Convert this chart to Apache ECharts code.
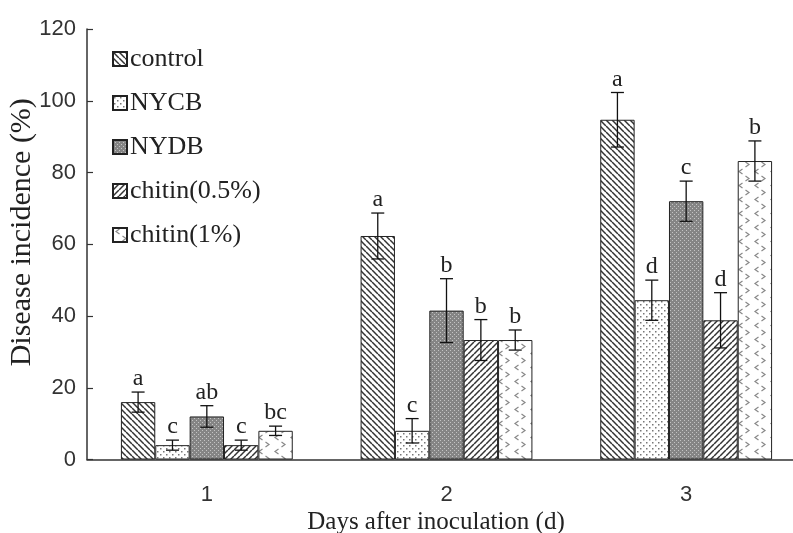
<!DOCTYPE html>
<html>
<head>
<meta charset="utf-8">
<script src="https://cdn.jsdelivr.net/npm/echarts@6/dist/echarts.min.js"></script>
<style>html,body{margin:0;padding:0;background:#fff;}#chart{width:793px;height:533px;}</style>
</head>
<body>
<div id="chart"></div>
<script>
// ---- data ----
const categories = ['1', '2', '3'];
const seriesNames = ['control', 'NYCB', 'NYDB', 'chitin(0.5%)', 'chitin(1%)'];
const controlMean = [16.0, 62.3, 94.7];
const controlErr = [2.8, 6.4, 7.6];
const nycbMean = [4.0, 8.0, 44.4];
const nycbErr = [1.4, 3.4, 5.6];
const nydbMean = [12.0, 41.5, 72.0];
const nydbErr = [3.0, 8.9, 5.6];
const chitin05Mean = [4.0, 33.3, 38.8];
const chitin05Err = [1.4, 5.7, 7.7];
const chitin1Mean = [8.0, 33.3, 83.2];
const chitin1Err = [1.3, 2.8, 5.6];
const controlLetters = ['a', 'a', 'a'];
const nycbLetters = ['c', 'c', 'd'];
const nydbLetters = ['ab', 'b', 'c'];
const chitin05Letters = ['c', 'b', 'd'];
const chitin1Letters = ['bc', 'b', 'b'];
const yTicks = [0, 20, 40, 60, 80, 100, 120];

const means = [controlMean, nycbMean, nydbMean, chitin05Mean, chitin1Mean];
const errs = [controlErr, nycbErr, nydbErr, chitin05Err, chitin1Err];
const letters = [controlLetters, nycbLetters, nydbLetters, chitin05Letters, chitin1Letters];

// ---- patterns ----
function tile(w, h, draw) {
  const c = document.createElement('canvas');
  c.width = w; c.height = h;
  const ctx = c.getContext('2d');
  ctx.fillStyle = '#fff'; ctx.fillRect(0, 0, w, h);
  draw(ctx, w, h);
  return { image: c, repeat: 'repeat' };
}
const patBack = tile(6, 6, (ctx, s) => {
  ctx.strokeStyle = '#333'; ctx.lineWidth = 1.5;
  for (let k = -1; k <= 1; k++) { ctx.beginPath(); ctx.moveTo(k * s, 0); ctx.lineTo(k * s + s, s); ctx.stroke(); }
});
const patFwd = tile(6, 6, (ctx, s) => {
  ctx.strokeStyle = '#333'; ctx.lineWidth = 1.5;
  for (let k = -1; k <= 1; k++) { ctx.beginPath(); ctx.moveTo(k * s, s); ctx.lineTo(k * s + s, 0); ctx.stroke(); }
});
const patDots = tile(6, 6, (ctx) => {
  ctx.fillStyle = '#777';
  ctx.fillRect(1, 1, 1.5, 1.5); ctx.fillRect(4, 4, 1.5, 1.5);
});
const patDense = tile(4, 4, (ctx) => {
  ctx.fillStyle = '#858585'; ctx.fillRect(0, 0, 4, 4);
  ctx.fillStyle = '#c4c4c4'; ctx.fillRect(0, 0, 1, 1); ctx.fillRect(2, 2, 1, 1);
});
const patChev = tile(16, 14, (ctx) => {
  ctx.strokeStyle = '#888'; ctx.lineWidth = 1.2;
  ctx.beginPath(); ctx.moveTo(6.5, 1); ctx.lineTo(3, 3.5); ctx.lineTo(6.5, 6); ctx.stroke();
  ctx.beginPath(); ctx.moveTo(9.5, 8); ctx.lineTo(13, 10.5); ctx.lineTo(9.5, 13); ctx.stroke();
});
const patterns = [patBack, patDots, patDense, patFwd, patChev];

const GAP = 0.283;
const serif = 'Liberation Serif';
const sans = 'Liberation Sans';

const barSeries = seriesNames.map((name, i) => ({
  name: name,
  type: 'bar',
  barGap: '0%',
  barCategoryGap: (GAP * 100) + '%',
  data: means[i],
  itemStyle: { color: patterns[i], borderColor: '#222', borderWidth: 1 },
  emphasis: { disabled: true },
  z: 2
}));

const errData = [];
for (let s = 0; s < seriesNames.length; s++) {
  for (let c = 0; c < categories.length; c++) {
    errData.push([c, s, means[s][c], errs[s][c]]);
  }
}

const errSeries = {
  type: 'custom',
  name: 'err',
  data: errData,
  encode: { x: 0, y: 2 },
  z: 5,
  silent: true,
  clip: false,
  renderItem: function (params, api) {
    const c = api.value(0), s = api.value(1), m = api.value(2), e = api.value(3);
    const band = api.size([1, 0])[0];
    const bw = band * (1 - GAP) / seriesNames.length;
    const base = api.coord([c, 0]);
    const cx = base[0] + (s - (seriesNames.length - 1) / 2) * bw;
    const yt = api.coord([c, m + e])[1];
    const yb = api.coord([c, m - e])[1];
    const hw = 6.5;
    const st = { stroke: '#111', lineWidth: 1.3 };
    return {
      type: 'group',
      children: [
        { type: 'line', shape: { x1: cx, y1: yt, x2: cx, y2: yb }, style: st },
        { type: 'line', shape: { x1: cx - hw, y1: yt, x2: cx + hw, y2: yt }, style: st },
        { type: 'line', shape: { x1: cx - hw, y1: yb, x2: cx + hw, y2: yb }, style: st },
        { type: 'text', x: cx, y: yt - 1, style: { text: letters[s][c], font: '24px "' + serif + '"', fill: '#222', align: 'center', verticalAlign: 'bottom' } }
      ]
    };
  }
};

const chart = echarts.init(document.getElementById('chart'), null, { renderer: 'canvas' });
chart.setOption({
  animation: false,
  backgroundColor: '#fff',
  grid: { left: 87, right: -13, top: 29, bottom: 73.5, containLabel: false, outerBoundsMode: 'none' },
  legend: {
    data: seriesNames,
    orient: 'vertical',
    left: 107,
    top: 41,
    itemWidth: 14,
    itemHeight: 14,
    itemGap: 18,
    icon: 'rect',
    textStyle: { fontFamily: serif, fontSize: 26, color: '#222', lineHeight: 26, padding: [0, 0, 0, -2] },
    selectedMode: false
  },
  xAxis: {
    type: 'category',
    data: categories,
    name: 'Days after inoculation (d)',
    nameLocation: 'middle',
    nameGap: 48,
    nameTextStyle: { fontFamily: serif, fontSize: 25, color: '#222', padding: [0, 21, 0, 0] },
    axisLine: { lineStyle: { color: '#333', width: 1.5 } },
    axisTick: { inside: true, length: 7, lineStyle: { color: '#333', width: 1.2 } },
    axisLabel: { fontFamily: sans, fontSize: 22, color: '#333', margin: 24 },
    splitLine: { show: false }
  },
  yAxis: {
    type: 'value',
    min: yTicks[0],
    max: yTicks[yTicks.length - 1],
    interval: yTicks[1] - yTicks[0],
    name: 'Disease incidence (%)',
    nameLocation: 'middle',
    nameRotate: 90,
    nameGap: 50,
    nameMoveOverlap: false,
    nameTextStyle: { fontFamily: serif, fontSize: 30, color: '#222', padding: [0, 0, 0, 24] },
    axisLine: { show: true, lineStyle: { color: '#333', width: 1.5 } },
    axisTick: { show: true, inside: true, length: 6, lineStyle: { color: '#333', width: 1.2 } },
    axisLabel: { fontFamily: sans, fontSize: 22, color: '#333', margin: 11 },
    splitLine: { show: false }
  },
  series: barSeries.concat([errSeries])
});
</script>
</body>
</html>
